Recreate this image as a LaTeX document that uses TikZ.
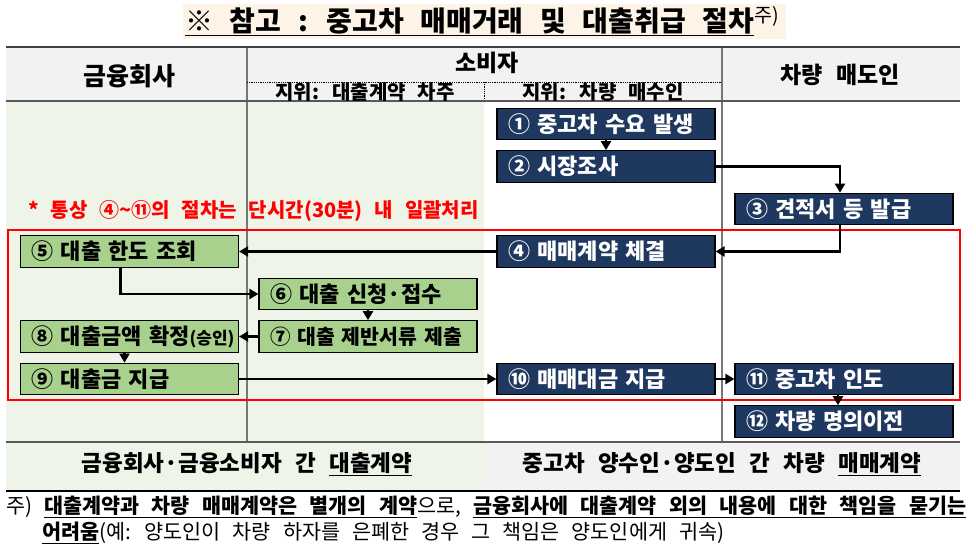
\documentclass[tikz,border=0pt]{standalone}
\usepackage{fontspec}
\setmainfont{Noto Sans CJK KR}[WordSpace=2.6]
\usetikzlibrary{arrows.meta}
\definecolor{navy}{RGB}{31,56,96}
\definecolor{leafgreen}{RGB}{169,209,142}
\definecolor{palegreen}{RGB}{239,244,232}
\definecolor{headgrey}{RGB}{242,242,242}
\definecolor{titlebg}{RGB}{253,243,231}
\definecolor{rulegrey}{RGB}{118,118,118}
\newcommand{\fs}[1]{\fontsize{#1}{#1}\selectfont}
\begin{document}
\begin{tikzpicture}[x=1pt, y=-1pt, every node/.style={inner sep=0pt}, text centered,
	buyerBox/.style={draw=black, fill=navy, text=white, line width=1.2pt, inner xsep=11pt, minimum width=218pt, minimum height=31.5pt, text width=196pt, align=left, font=\bfseries\fs{22}},
	loanBox/.style={buyerBox, fill=leafgreen, text=black},
	flow/.style={-{Triangle[length=9pt,width=10pt]}, line width=2.2pt},
	frame/.style={line width=2.6pt}]
	\useasboundingbox (0,0) rectangle (976,551);
	\fill[white] (0,0) rectangle (976,551);
	\fill[titlebg] (183,4) rectangle (786,39);
	\fill[headgrey] (6,47) rectangle (960,101);
	\fill[palegreen] (6,101) rectangle (484,491);
	\fill[headgrey] (484,442) rectangle (960,491);
	\draw[rulegrey, line width=1.3pt] (247,47) -- (247,442) (722,47) -- (722,442);
	\draw[densely dotted, line width=.8pt] (247,82) -- (722,82) (484,82) -- (484,101);
	\draw[frame, black!75] (6,47) -- (960,47);
	\draw[frame, black!65] (6,101) -- (960,101);
	\draw[frame, black!65] (6,442) -- (960,442);
	\draw[frame, black] (6,491) -- (960,491);
	\draw[red, line width=1.3pt] (8,230) rectangle (960,400);
	\node[anchor=west, font=\bfseries\fs{28}] (title) at (185,21) {\underline{※ 참고 : 중고차 매매거래 및 대출취급 절차}\textsuperscript{\mdseries 주)}};
	\node[font=\bfseries\fs{25}] (financeHead) at (129,76) {금융회사};
	\node[font=\bfseries\fs{23}] (consumerHead) at (487,63) {소비자};
	\node[font=\bfseries\fs{20}] (borrowerHead) at (365,92) {지위: 대출계약 차주};
	\node[font=\bfseries\fs{20}] (buyerHead) at (603,92) {지위: 차량 매수인};
	\node[font=\bfseries\fs{23}] (sellerHead) at (840,75) {차량 매도인};
	\node[buyerBox] (demand) at (606,124) {① 중고차 수요 발생};
	\node[buyerBox] (survey) at (606,166.5) {② 시장조사};
	\node[buyerBox] (quote) at (844,209) {③ 견적서 등 발급};
	\node[buyerBox] (contract) at (606,251.5) {④ 매매계약 체결};
	\node[loanBox] (limit) at (129.5,251.5) {⑤ 대출 한도 조회};
	\node[loanBox] (apply) at (368,294) {⑥ 대출 신청·접수};
	\node[loanBox, font=\bfseries\fs{20.5}] (docs) at (368,336.5) {\mbox{⑦ 대출 제반서류 제출}};
	\node[loanBox] (approve) at (129.5,336.5) {\mbox{⑧ 대출금액 확정{\fs{17}(승인)}}};
	\node[loanBox] (payout) at (129.5,379) {⑨ 대출금 지급};
	\node[buyerBox] (payment) at (606,379) {⑩ 매매대금 지급};
	\node[buyerBox] (delivery) at (844,379) {⑪ 중고차 인도};
	\node[buyerBox] (transfer) at (844,421.5) {⑫ 차량 명의이전};
	\node[anchor=west, text=red, font=\bfseries\fs{20}] (quickNote) at (28,211) {* 통상 ④\textasciitilde⑪의 절차는 단시간(30분) 내 일괄처리};
	\draw[flow] (demand) -- (survey);
	\draw[flow] (survey.east) -| ([xshift=-4pt]quote.north);
	\draw[flow] ([xshift=-4pt]quote.south) |- (contract.east);
	\draw[flow] (contract) -- (limit);
	\draw[flow] ([xshift=-9pt]limit.south) |- (apply.west);
	\draw[flow] (apply) -- (docs);
	\draw[flow] (docs) -- (approve);
	\draw[flow] ([xshift=-5pt]approve.south) -- ([xshift=-5pt]payout.north);
	\draw[flow] (payout) -- (payment);
	\draw[flow] (payment) -- (delivery);
	\draw[flow] ([xshift=-6pt]delivery.south) -- ([xshift=-6pt]transfer.north);
	\node[font=\bfseries\fs{22.5}] (loanFoot) at (247,464) {금융회사·금융소비자 간 \underline{대출계약}};
	\node[font=\bfseries\fs{22.5}] (saleFoot) at (722,464) {중고차 양수인·양도인 간 차량 \underline{매매계약}};
	\node[anchor=west, font=\fs{20.7}] (remarkA) at (6,507) {주) \underline{\textbf{대출계약과 차량 매매계약은 별개의 계약}}으로, \underline{\textbf{금융회사에 대출계약 외의 내용에 대한 책임을 묻기는}}};
	\node[anchor=west, font=\fs{20.7}] (remarkB) at (42,533) {\underline{\textbf{어려움}}(예: 양도인이 차량 하자를 은폐한 경우 그 책임은 양도인에게 귀속)};
\end{tikzpicture}
\end{document}
